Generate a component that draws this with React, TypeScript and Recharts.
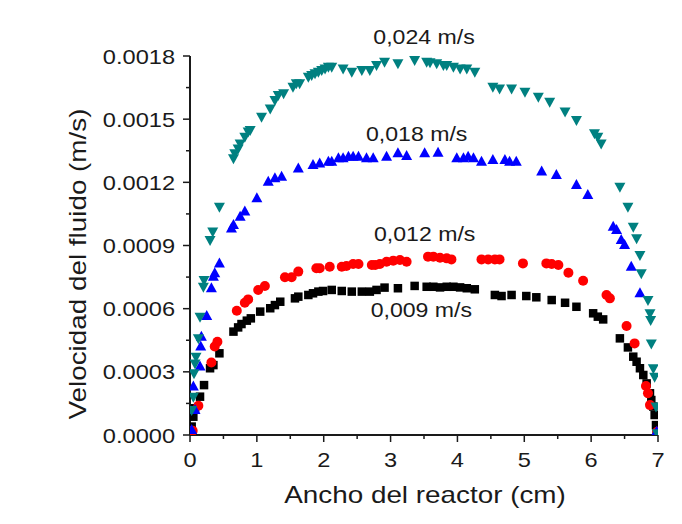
import React from 'react';
import { ScatterChart, Scatter, XAxis, YAxis, ReferenceDot, Label } from 'recharts';

const FONT = '"Liberation Sans", Arial, Helvetica, sans-serif';
const INK = '#1a1a1a';

const xTicks = [0, 0.5, 1, 1.5, 2, 2.5, 3, 3.5, 4, 4.5, 5, 5.5, 6, 6.5, 7];
const xTickLabels = ['0', '1', '2', '3', '4', '5', '6', '7'];
const yTicks = [0, 0.00015, 0.0003, 0.00045, 0.0006, 0.00075, 0.0009, 0.00105, 0.0012, 0.00135, 0.0015, 0.00165, 0.0018];
const yTickLabels = ['0.0000', '0.0003', '0.0006', '0.0009', '0.0012', '0.0015', '0.0018'];

const seriesNames = ['0,009 m/s', '0,012 m/s', '0,018 m/s', '0,024 m/s'];
const seriesColors = ['#000000', '#ff0000', '#0000ff', '#008080'];

const v009: [number, number][] = [
  [0.025, 0.00004], [0.05, 0.000087], [0.075, 0.000127], [0.15, 0.000182], [0.21, 0.000237], [0.3, 0.000317],
  [0.35, 0.000332], [0.44, 0.000388], [0.65, 0.000491], [0.72, 0.000511], [0.77, 0.000527], [0.85, 0.000543],
  [0.91, 0.000554], [1.05, 0.000586], [1.2, 0.000602], [1.27, 0.000617], [1.35, 0.000633], [1.57, 0.000649],
  [1.62, 0.000657], [1.77, 0.000665], [1.84, 0.000673], [1.92, 0.000681], [1.99, 0.000684], [2.12, 0.000689],
  [2.27, 0.000684], [2.42, 0.000681], [2.57, 0.000681], [2.69, 0.000681], [2.79, 0.000689], [2.91, 0.0007],
  [3.11, 0.000697], [3.36, 0.000708], [3.54, 0.000704], [3.64, 0.000704], [3.74, 0.000701], [3.84, 0.000704],
  [3.94, 0.000704], [4.04, 0.000701], [4.14, 0.000697], [4.26, 0.000692], [4.56, 0.000665], [4.66, 0.00066],
  [4.81, 0.000665], [5.03, 0.00066], [5.18, 0.000654], [5.41, 0.000641], [5.61, 0.000628], [5.78, 0.000609],
  [6.03, 0.000578], [6.1, 0.000562], [6.18, 0.000549], [6.43, 0.000459], [6.55, 0.000416], [6.63, 0.000372],
  [6.68, 0.000348], [6.73, 0.000317], [6.78, 0.000285], [6.83, 0.000245], [6.88, 0.000198], [6.9, 0.000166],
  [6.93, 0.000135], [6.95, 0.000095], [6.97, 0.000047], [6.98, 0.000008],
];

const v012: [number, number][] = [
  [0.04, 0.00002], [0.125, 0.000139], [0.32, 0.000344], [0.37, 0.00042], [0.41, 0.000443], [0.7, 0.00059],
  [0.82, 0.000628], [0.87, 0.000644], [1.02, 0.000689], [1.12, 0.000708], [1.42, 0.000749], [1.52, 0.000749],
  [1.62, 0.000776], [1.89, 0.000792], [1.94, 0.000792], [2.09, 0.000799], [2.27, 0.000799], [2.34, 0.000803],
  [2.44, 0.000812], [2.52, 0.000812], [2.72, 0.000807], [2.77, 0.000807], [2.84, 0.000812], [2.94, 0.000823],
  [3.04, 0.000828], [3.14, 0.000831], [3.24, 0.000823], [3.56, 0.000847], [3.64, 0.000847], [3.74, 0.000842],
  [3.84, 0.000839], [3.91, 0.000834], [4.36, 0.000834], [4.46, 0.000834], [4.56, 0.000834], [4.63, 0.000834],
  [4.98, 0.000815], [5.33, 0.000815], [5.41, 0.000812], [5.51, 0.000807], [5.66, 0.000771], [5.88, 0.000733],
  [6.23, 0.000665], [6.28, 0.000649], [6.53, 0.000518], [6.65, 0.000435], [6.82, 0.000233], [6.85, 0.000198],
  [6.88, 0.000142], [6.99, 0.000016],
];

const v018: [number, number][] = [
  [0.025, 0.000024], [0.075, 0.000119], [0.05, 0.00023], [0.15, 0.000325], [0.16, 0.00042], [0.17, 0.000467],
  [0.25, 0.000565], [0.32, 0.000697], [0.35, 0.000752], [0.37, 0.000768], [0.44, 0.000815], [0.62, 0.000981],
  [0.65, 0.000997], [0.75, 0.001037], [0.82, 0.001061], [1.0, 0.001124], [1.17, 0.001203], [1.27, 0.001219],
  [1.37, 0.001227], [1.62, 0.001266], [1.84, 0.001282], [1.94, 0.00129], [2.07, 0.001298], [2.12, 0.001298],
  [2.22, 0.001314], [2.29, 0.001314], [2.37, 0.001322], [2.44, 0.001322], [2.52, 0.001322], [2.64, 0.001314],
  [2.74, 0.001314], [2.94, 0.001322], [3.11, 0.001338], [3.24, 0.001325], [3.51, 0.001338], [3.71, 0.001341],
  [3.99, 0.001314], [4.09, 0.001314], [4.16, 0.001322], [4.24, 0.001314], [4.36, 0.001298], [4.53, 0.001306],
  [4.71, 0.001306], [4.78, 0.001298], [4.88, 0.001298], [5.26, 0.001251], [5.48, 0.001235], [5.78, 0.001187],
  [5.95, 0.00114], [6.33, 0.000989], [6.38, 0.000974], [6.45, 0.000926], [6.5, 0.000902], [6.6, 0.000799],
  [6.73, 0.000673], [6.98, 0.000016],
];

const v024: [number, number][] = [
  [0.025, 0.000119], [0.05, 0.000182], [0.06, 0.000293], [0.075, 0.00034], [0.09, 0.000372], [0.125, 0.000459],
  [0.15, 0.000562], [0.2, 0.000704], [0.21, 0.000736], [0.3, 0.000926], [0.34, 0.000966], [0.44, 0.001084],
  [0.65, 0.001314], [0.67, 0.001338], [0.72, 0.001361], [0.75, 0.001385], [0.82, 0.001417], [0.87, 0.001441],
  [0.9, 0.001448], [1.07, 0.001512], [1.2, 0.001551], [1.27, 0.001591], [1.32, 0.001615], [1.4, 0.001623],
  [1.54, 0.001654], [1.59, 0.00167], [1.64, 0.00167], [1.77, 0.001702], [1.82, 0.00171], [1.87, 0.001718],
  [1.92, 0.001725], [1.97, 0.001733], [2.02, 0.001741], [2.07, 0.001749], [2.12, 0.001749], [2.29, 0.001741],
  [2.42, 0.001725], [2.57, 0.001733], [2.69, 0.001733], [2.79, 0.001757], [2.91, 0.001773], [3.11, 0.001765],
  [3.36, 0.001781], [3.54, 0.001773], [3.59, 0.00177], [3.69, 0.001765], [3.79, 0.001757], [3.84, 0.001757],
  [3.94, 0.001749], [4.04, 0.001741], [4.14, 0.001741], [4.26, 0.001725], [4.53, 0.001654], [4.63, 0.001646],
  [4.81, 0.001646], [5.01, 0.00163], [5.21, 0.001607], [5.38, 0.001583], [5.61, 0.001536], [5.78, 0.001496],
  [6.05, 0.001433], [6.1, 0.001417], [6.15, 0.001385], [6.43, 0.001179], [6.55, 0.001084], [6.63, 0.000989],
  [6.68, 0.000934], [6.73, 0.000855], [6.75, 0.000768], [6.85, 0.000641], [6.88, 0.000578], [6.89, 0.000546],
  [6.9, 0.000435], [6.93, 0.000317], [6.95, 0.000277], [6.97, 0.000135], [6.99, 0.000008],
];

// annotation anchor points in data coordinates
const annotations: { text: string; x: number; y: number }[] = [
  { text: '0,024 m/s', x: 3.5, y: 0.001894 },
  { text: '0,018 m/s', x: 3.39, y: 0.001430 },
  { text: '0,012 m/s', x: 3.51, y: 0.000955 },
  { text: '0,009 m/s', x: 3.46, y: 0.000594 },
];

const toRows = (arr: [number, number][]) => arr.map(([x, y]) => ({ x, y }));

const Square = (props: any) => {
  const { cx, cy, fill } = props;
  const s = 8.5;
  return <rect x={cx - s / 2} y={cy - s / 2} width={s} height={s} fill={fill} />;
};
const Circle = (props: any) => {
  const { cx, cy, fill } = props;
  return <circle cx={cx} cy={cy} r={5} fill={fill} />;
};
const TriUp = (props: any) => {
  const { cx, cy, fill } = props;
  const w = 11, h = 10;
  return <path d={`M${cx},${cy - h * 0.6} L${cx + w / 2},${cy + h * 0.4} L${cx - w / 2},${cy + h * 0.4} Z`} fill={fill} />;
};
const TriDown = (props: any) => {
  const { cx, cy, fill } = props;
  const w = 11, h = 10;
  return <path d={`M${cx},${cy + h * 0.6} L${cx + w / 2},${cy - h * 0.4} L${cx - w / 2},${cy - h * 0.4} Z`} fill={fill} />;
};
const shapes = [Square, Circle, TriUp, TriDown];
const seriesData = [v009, v012, v018, v024];

const XTick = (props: any) => {
  const { x, y, index } = props;
  const major = index % 2 === 0;
  return (
    <g>
      <line x1={x} x2={x} y1={y} y2={y + (major ? 7 : 4)} stroke={INK} strokeWidth={1.5} />
      {major && (
        <text transform={`translate(${x},${y + 32}) scale(1.18,1)`} textAnchor="middle" fontSize={20} fontFamily={FONT} fill={INK}>
          {xTickLabels[index / 2]}
        </text>
      )}
    </g>
  );
};

const YTick = (props: any) => {
  const { x, y, index } = props;
  const major = index % 2 === 0;
  return (
    <g>
      <line x1={x} x2={x - (major ? 7 : 4)} y1={y} y2={y} stroke={INK} strokeWidth={1.5} />
      {major && (
        <text transform={`translate(${x - 15},${y + 7.5}) scale(1.18,1)`} textAnchor="end" fontSize={20} fontFamily={FONT} fill={INK}>
          {yTickLabels[index / 2]}
        </text>
      )}
    </g>
  );
};

const XTitle = (props: any) => {
  const vb = props.viewBox || {};
  const cx = vb.x + vb.width / 2 + 1;
  const cy = vb.y + 68;
  return (
    <text transform={`translate(${cx},${cy}) scale(1.16,1)`} textAnchor="middle" fontSize={24} fontFamily={FONT} fill={INK}>
      Ancho del reactor (cm)
    </text>
  );
};

const YTitle = (props: any) => {
  const vb = props.viewBox || {};
  const cx = vb.x + 86;
  const cy = vb.y + 208;
  return (
    <text transform={`translate(${cx},${cy}) rotate(-90) scale(1.16,1)`} textAnchor="middle" fontSize={24} fontFamily={FONT} fill={INK}>
      Velocidad del fluido (m/s)
    </text>
  );
};

const AnnLabel = (text: string) => (props: any) => {
  const vb = props.viewBox || {};
  const cx = vb.x + (vb.width || 0) / 2;
  const cy = vb.y + (vb.height || 0) / 2;
  return (
    <text transform={`translate(${cx},${cy + 7.5}) scale(1.1,1)`} textAnchor="middle" fontSize={21} fontFamily={FONT} fill={INK}>
      {text}
    </text>
  );
};

export default function App() {
  return (
    <div style={{ position: 'absolute', left: 0, top: 0, width: 682, height: 524, background: '#fff' }}>
      <ScatterChart width={682} height={524} margin={{ top: 56, right: 24, bottom: 0, left: 0 }}>
        <XAxis
          type="number"
          dataKey="x"
          domain={[0, 7]}
          ticks={xTicks}
          interval={0}
          tickSize={0}
          tickMargin={0}
          tickLine={false}
          tick={<XTick />}
          axisLine={{ stroke: INK, strokeWidth: 2 }}
          height={89}
          allowDataOverflow
        >
          <Label content={<XTitle />} />
        </XAxis>
        <YAxis
          type="number"
          dataKey="y"
          domain={[0, 0.0018]}
          ticks={yTicks}
          interval={0}
          tickSize={0}
          tickMargin={0}
          tickLine={false}
          tick={<YTick />}
          axisLine={{ stroke: INK, strokeWidth: 2 }}
          width={190}
          allowDataOverflow
        >
          <Label content={<YTitle />} />
        </YAxis>
        {seriesData.map((arr, i) => (
          <Scatter
            key={seriesNames[i]}
            name={seriesNames[i]}
            data={toRows(arr)}
            fill={seriesColors[i]}
            shape={shapes[i]}
            isAnimationActive={false}
          />
        ))}
        {annotations.map((a) => (
          <ReferenceDot key={a.text} x={a.x} y={a.y} r={0} ifOverflow="visible" stroke="none" fill="none" label={AnnLabel(a.text)} />
        ))}
      </ScatterChart>
    </div>
  );
}
